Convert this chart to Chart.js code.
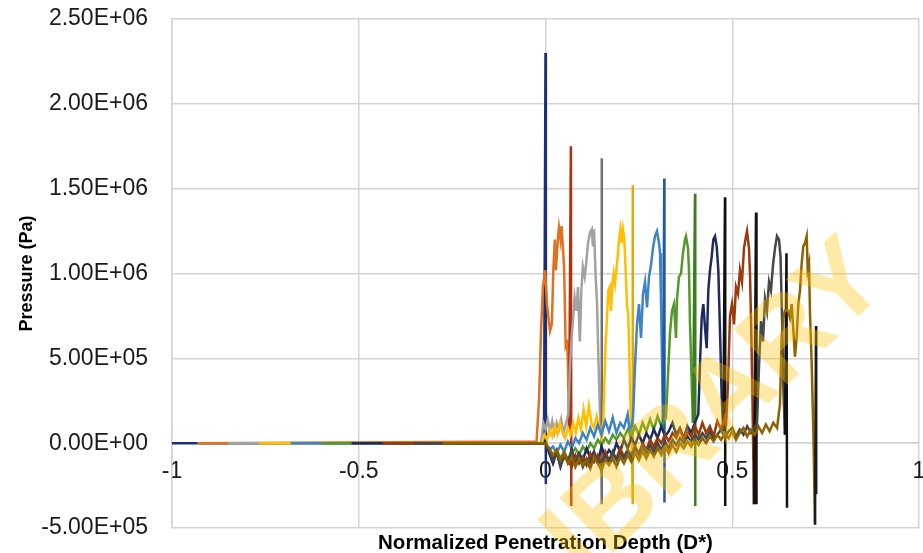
<!DOCTYPE html>
<html>
<head>
<meta charset="utf-8">
<script src="https://cdn.jsdelivr.net/npm/chart.js@4.4.1/dist/chart.umd.min.js"></script>
<style>
  html, body { margin: 0; padding: 0; background: #fff; }
  #wrap { width: 923px; height: 553px; }
</style>
</head>
<body>
<div id="wrap"><canvas id="pressureChart" width="923" height="553"></canvas></div>
<script>
// Pressure traces vs normalized penetration depth, pressure stored in MPa
const startDepth = [-1, -0.932, -0.85, -0.767, -0.682, -0.6, -0.519, -0.436, -0.354, -0.276];

const seriesColors = ["#1c2f73", "#e2701f", "#a2a2a2", "#ffbf00", "#3f83c6", "#55992b",
                      "#1d2c5c", "#9c3a0c", "#474747", "#8f6200"];
const spikeColors = ["#1c2f73", "#b3300f", "#6f6f6f", "#e8a600", "#1f5aa6", "#3d7d22",
                     "#111111", "#141414", "#111111", "#1c1c1c"];

// shared depth grid for the low-level noise ahead of each pressure hump
const noiseDepth = [0, 0.01, 0.02, 0.03, 0.04, 0.05, 0.06, 0.07, 0.08, 0.09, 0.1, 0.11, 0.12, 0.13, 0.14,
  0.15, 0.16, 0.17, 0.18, 0.19, 0.2, 0.21, 0.22, 0.23, 0.24, 0.25, 0.26, 0.27, 0.28, 0.29, 0.3, 0.31,
  0.32, 0.33, 0.34, 0.35, 0.36, 0.37, 0.38, 0.39, 0.4, 0.41, 0.42, 0.43, 0.44, 0.45, 0.46, 0.47, 0.48,
  0.49, 0.5, 0.51, 0.52, 0.53, 0.54, 0.55, 0.56, 0.57, 0.58, 0.59, 0.6, 0.61, 0.62];

const blueNoise = [0.0, -0.04, -0.02, -0.06, -0.01, -0.05, 0.01, -0.03, 0.03, 0.0, 0.06, 0.02, 0.09, 0.04,
  0.11, 0.05, 0.13, 0.07, 0.15, 0.06, 0.12, 0.09, 0.17];
const greenNoise = [0.0, -0.05, -0.08, -0.04, -0.09, -0.05, -0.1, -0.06, -0.03, -0.07, -0.02, -0.05, 0.0,
  -0.03, 0.02, -0.01, 0.03, 0.0, 0.05, 0.02, 0.06, 0.03, 0.08, 0.04, 0.1, 0.05, 0.12, 0.07, 0.14, 0.08, 0.16, 0.1];
const navyNoise = [0.0, -0.06, -0.12, -0.05, -0.14, -0.07, -0.11, -0.04, -0.13, -0.06, -0.1, -0.03, -0.09,
  -0.05, -0.11, -0.02, -0.08, -0.04, -0.07, 0.0, -0.05, 0.02, -0.03, 0.03, -0.01, 0.05, 0.0, 0.06, 0.02,
  0.08, 0.03, 0.1, 0.04, 0.07, 0.12, 0.05, 0.09, 0.03, 0.1, 0.06, 0.12];
const brownNoise = [0.0, -0.04, -0.09, -0.05, -0.12, -0.06, -0.1, -0.14, -0.07, -0.12, -0.08, -0.13, -0.06,
  -0.11, -0.07, -0.12, -0.05, -0.1, -0.06, -0.09, -0.03, -0.08, -0.04, -0.07, -0.02, -0.06, 0.0, -0.04,
  0.02, -0.02, 0.03, 0.0, 0.05, 0.01, 0.06, 0.03, 0.08, 0.02, 0.07, 0.04, 0.1, 0.05, 0.12, 0.06, 0.1,
  0.04, 0.13, 0.08, 0.15];
const darkGrayNoise = [0.0, -0.05, -0.1, -0.06, -0.13, -0.08, -0.11, -0.05, -0.12, -0.07, -0.14, -0.09,
  -0.12, -0.06, -0.1, -0.13, -0.07, -0.11, -0.05, -0.1, -0.06, -0.09, -0.04, -0.08, -0.03, -0.07, -0.02,
  -0.06, -0.01, -0.05, 0.0, -0.04, 0.01, -0.03, 0.02, -0.01, 0.03, 0.0, 0.04, 0.01, 0.05, 0.02, 0.06,
  0.03, 0.07, 0.02, 0.05, 0.08, 0.03, 0.07, 0.09, 0.04, 0.08, 0.05, 0.1, 0.06, 0.09];
const darkGoldNoise = [0.0, -0.03, -0.07, -0.04, -0.1, -0.06, -0.12, -0.08, -0.14, -0.09, -0.13, -0.1,
  -0.15, -0.08, -0.12, -0.16, -0.1, -0.13, -0.09, -0.14, -0.08, -0.12, -0.07, -0.11, -0.06, -0.1, -0.05,
  -0.09, -0.04, -0.08, -0.03, -0.07, -0.02, -0.06, -0.01, -0.05, 0.0, -0.03, 0.01, -0.02, 0.02, -0.01,
  0.03, 0.0, 0.04, 0.01, 0.05, 0.02, 0.06, 0.03, 0.07, 0.02, 0.06, 0.09, 0.04, 0.08, 0.05, 0.1, 0.06,
  0.11, 0.07, 0.12, 0.09];

// [depth, MPa] pairs: hump, final spike and drop
const navyTrace = [[-0.004, 0], [0.0, 2.3], [0.001, -0.24]];
const orangeTrace = [[-0.024, 0.01], [-0.017, 0.27], [-0.012, 0.66], [-0.007, 0.92], [-0.001, 1.02],
  [0.004, 0.82], [0.008, 0.74], [0.012, 0.66], [0.017, 0.7], [0.021, 1.02], [0.025, 1.2], [0.028, 1.02],
  [0.033, 1.2], [0.036, 1.27], [0.04, 1.2], [0.043, 1.28], [0.047, 1.14], [0.05, 1.02], [0.054, 0.57],
  [0.058, 0.59], [0.06, 0.47], [0.063, 0.08], [0.068, 1.75], [0.069, -0.37]];
const grayTrace = [[-0.012, 0.0], [-0.006, 0.12], [0.0, 0.08], [0.006, 0.14], [0.012, 0.07], [0.018, 0.13],
  [0.024, 0.06], [0.03, 0.12], [0.036, 0.08], [0.042, 0.14], [0.048, 0.06], [0.054, 0.11], [0.061, 0.17],
  [0.065, 0.43], [0.069, 0.59], [0.074, 0.74], [0.078, 0.86], [0.083, 0.78], [0.087, 0.92], [0.092, 0.6],
  [0.096, 0.9], [0.1, 1.04], [0.105, 0.98], [0.109, 1.06], [0.114, 1.18], [0.119, 1.24], [0.124, 1.26],
  [0.127, 1.16], [0.13, 1.26], [0.134, 1.0], [0.138, 0.82], [0.142, 0.47], [0.146, 0.17], [0.149, 0.08],
  [0.1504, 1.68], [0.151, -0.36]];
const goldTrace = [[-0.01, 0.0], [-0.003, 0.05], [0.004, 0.02], [0.011, 0.08], [0.018, 0.04], [0.025, 0.1],
  [0.032, 0.05], [0.039, 0.12], [0.046, 0.06], [0.053, 0.03], [0.06, 0.09], [0.067, 0.05], [0.074, 0.12],
  [0.081, 0.06], [0.088, 0.15], [0.095, 0.08], [0.102, 0.2], [0.109, 0.1], [0.116, 0.22], [0.123, 0.12],
  [0.13, 0.09], [0.137, 0.16], [0.144, 0.1], [0.1504, 0.02], [0.1548, 0.13], [0.1575, 0.35], [0.161, 0.59],
  [0.1647, 0.74], [0.1682, 0.9], [0.1718, 0.92], [0.1754, 0.78], [0.179, 0.94], [0.1825, 1.0], [0.186, 0.94],
  [0.1897, 1.02], [0.1932, 1.1], [0.1968, 1.2], [0.2003, 1.26], [0.204, 1.18], [0.2075, 1.26], [0.211, 1.2],
  [0.2146, 1.02], [0.2182, 0.82], [0.2218, 0.74], [0.2253, 0.43], [0.229, 0.08], [0.2316, -0.04],
  [0.2334, 1.52], [0.234, -0.36]];
const blueTrace = [[0.2262, 0.05], [0.2343, 0.15], [0.2396, 0.45], [0.245, 0.7], [0.2503, 0.82],
  [0.2557, 0.62], [0.261, 0.88], [0.2664, 0.95], [0.2718, 0.8], [0.2771, 0.98], [0.2825, 1.05],
  [0.2878, 1.15], [0.2932, 1.22], [0.2985, 1.25], [0.3039, 1.18], [0.3066, 1.12], [0.3092, 0.85],
  [0.3119, 0.5], [0.3146, 0.1], [0.318, 1.56], [0.3185, -0.35]];
const greenTrace = [[0.3226, 0.15], [0.328, 0.4], [0.3333, 0.65], [0.3387, 0.78], [0.344, 0.82],
  [0.3494, 0.62], [0.3521, 0.85], [0.3574, 0.98], [0.3628, 1.0], [0.3681, 1.12], [0.3735, 1.2],
  [0.3762, 1.22], [0.3815, 1.15], [0.3842, 1.02], [0.3869, 0.7], [0.3922, 0.3], [0.3949, 0.12],
  [0.4003, 1.47], [0.401, -0.37]];
const navyDarkTrace = [[0.4091, 0.17], [0.4137, 0.47], [0.4182, 0.74], [0.4225, 0.82], [0.4271, 0.68],
  [0.4316, 0.56], [0.4359, 0.9], [0.4404, 1.02], [0.445, 1.1], [0.4493, 1.2], [0.4538, 1.22],
  [0.4584, 1.16], [0.4627, 1.02], [0.4672, 0.66], [0.4718, 0.27], [0.4761, 0.07], [0.4806, 1.45],
  [0.4812, -0.37]];
const brownTrace = [[0.4833, 0.1], [0.4886, 0.35], [0.494, 0.75], [0.4993, 0.82], [0.5047, 0.7],
  [0.51, 0.92], [0.5154, 0.88], [0.5207, 1.02], [0.5261, 0.95], [0.5314, 1.15], [0.5368, 1.22],
  [0.5395, 1.25], [0.5448, 1.15], [0.5475, 1.0], [0.5515, 0.6], [0.5542, 0.25], [0.5582, -0.36],
  [0.5636, 1.36], [0.5649, -0.36]];
const darkGrayTrace = [[0.5663, 0.12], [0.5716, 0.45], [0.577, 0.72], [0.5823, 0.6], [0.5877, 0.85],
  [0.593, 0.78], [0.5984, 0.95], [0.6037, 0.9], [0.6091, 1.05], [0.6145, 1.15], [0.6198, 1.22],
  [0.6252, 1.2], [0.6292, 1.1], [0.6332, 0.75], [0.6372, 0.3], [0.6412, 0.05], [0.6452, 1.12],
  [0.6466, -0.38]];
const darkGoldTrace = [[0.6278, 0.23], [0.6324, 0.63], [0.6367, 0.74], [0.6412, 0.78], [0.6501, 0.78],
  [0.6546, 0.74], [0.6592, 0.82], [0.6635, 0.67], [0.668, 0.51], [0.6726, 0.63], [0.6769, 0.82],
  [0.6814, 0.9], [0.6859, 1.06], [0.6902, 1.16], [0.6948, 1.18], [0.6993, 1.22], [0.702, 1.02],
  [0.7055, 1.06], [0.7082, 0.76], [0.7127, 0.47], [0.717, 0.08], [0.7216, -0.48], [0.7243, 0.69],
  [0.7248, -0.3]];

const traces = [navyTrace, orangeTrace, grayTrace, goldTrace, blueTrace, greenTrace,
                navyDarkTrace, brownTrace, darkGrayTrace, darkGoldTrace];
const noises = [[], [], [], [], blueNoise, greenNoise, navyNoise, brownNoise, darkGrayNoise, darkGoldNoise];

const datasets = traces.map((trace, i) => {
    const pts = [{ x: startDepth[i], y: 0 }];
    noises[i].forEach((p, j) => pts.push({ x: noiseDepth[j], y: p * 1e6 }));
    trace.forEach(([d, p]) => pts.push({ x: d, y: p * 1e6 }));
    const last = pts.length - 1;
    return {
        label: `Run ${i + 1}`,
        data: pts,
        borderColor: seriesColors[i],
        borderWidth: 2.5,
        pointRadius: 0,
        tension: 0,
        order: traces.length - i,   // later runs sit on top
        segment: { borderColor: ctx => ctx.p1DataIndex >= last - 1 ? spikeColors[i] : undefined }
    };
});

function sciLabel(v) {
    const [m, e] = Number(v).toExponential(2).split("e");
    const n = String(Math.abs(parseInt(e, 10))).padStart(2, "0");
    return `${m}E${e[0] === "-" ? "-" : "+"}${n}`;
}

const FONT = '"Liberation Sans", Arial, sans-serif';

const xTitle = {
    id: "xTitle",
    afterDraw(chart) {
        const { ctx, chartArea } = chart;
        ctx.save();
        ctx.font = `bold 20.5px ${FONT}`;
        ctx.fillStyle = "#000";
        ctx.textAlign = "center";
        ctx.textBaseline = "middle";
        ctx.fillText("Normalized Penetration Depth (D*)", (chartArea.left + chartArea.right) / 2, 543);
        ctx.restore();
    }
};

const watermark = {
    id: "watermark",
    afterDraw(chart) {
        const { ctx } = chart;
        ctx.save();
        ctx.translate(692, 434);
        ctx.rotate(-44 * Math.PI / 180);
        ctx.font = `bold 112px ${FONT}`;
        ctx.fillStyle = "rgba(255, 192, 0, 0.35)";
        ctx.textAlign = "center";
        ctx.textBaseline = "middle";
        ctx.fillText("LIBRARY", 0, 0);
        ctx.restore();
    }
};

new Chart(document.getElementById("pressureChart"), {
    type: "line",
    data: { datasets },
    options: {
        responsive: false,
        devicePixelRatio: 1,
        animation: false,
        layout: { padding: { left: 0, top: 19, right: 4, bottom: 25 } },
        plugins: { legend: { display: false }, tooltip: { enabled: false } },
        scales: {
            x: {
                type: "linear",
                position: { y: 0 },
                min: -1,
                max: 1,
                ticks: {
                    stepSize: 0.5,
                    padding: 15,
                    color: "#1a1a1a",
                    font: { family: FONT, size: 23 },
                    callback: v => String(+Number(v).toFixed(2))
                },
                grid: { color: "#d3d3d3", lineWidth: 1.5, drawTicks: false },
                border: { color: "#d3d3d3", width: 1.5 },
                afterFit: scale => { scale.paddingLeft = 0; scale.paddingRight = 0; }
            },
            y: {
                min: -5e5,
                max: 2.5e6,
                ticks: {
                    stepSize: 5e5,
                    padding: 24,
                    color: "#1a1a1a",
                    font: { family: FONT, size: 23 },
                    callback: v => sciLabel(v)
                },
                grid: { color: "#d3d3d3", lineWidth: 1.5, drawTicks: false },
                border: { color: "#d3d3d3", width: 1.5 },
                title: {
                    display: true,
                    text: "Pressure (Pa)",
                    color: "#000",
                    font: { family: FONT, size: 18, weight: "bold" },
                    padding: { top: 16, bottom: 0 }
                },
                afterFit: scale => {
                    scale.width = 172;
                    scale.paddingTop = 0;
                    scale.paddingBottom = 0;
                }
            }
        }
    },
    plugins: [xTitle, watermark]
});
</script>
</body>
</html>
